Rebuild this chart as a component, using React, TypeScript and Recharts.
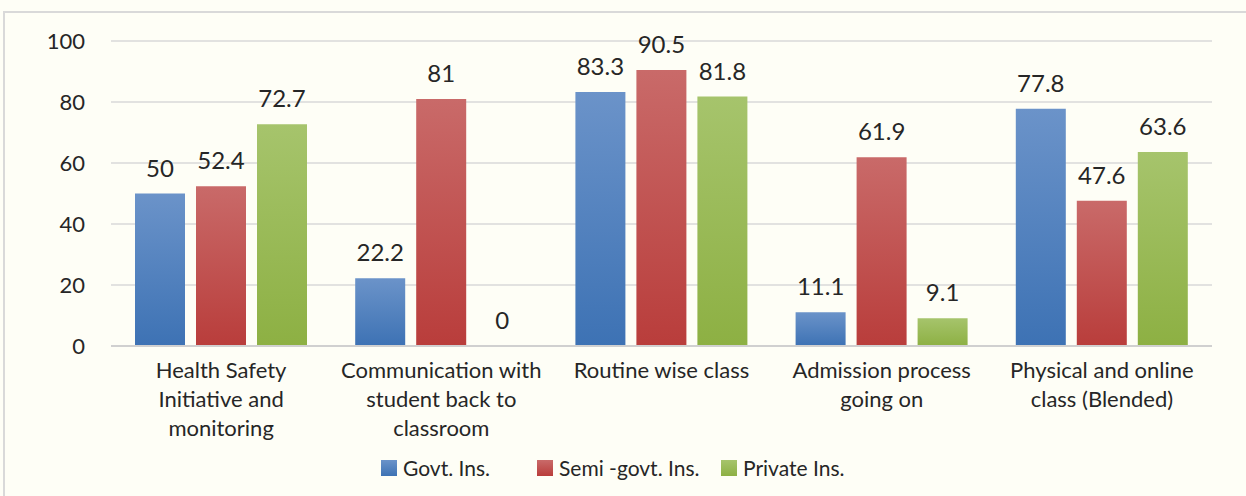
import React from 'react';
import { BarChart, Bar, XAxis, YAxis, CartesianGrid, LabelList, Legend } from 'recharts';

const categories = [
  'Health Safety Initiative and monitoring',
  'Communication with student back to classroom',
  'Routine wise class',
  'Admission process going on',
  'Physical and online class (Blended)',
];

const categoryLines: Record<string, string[]> = {
  'Health Safety Initiative and monitoring': ['Health Safety', 'Initiative and', 'monitoring'],
  'Communication with student back to classroom': ['Communication with', 'student back to', 'classroom'],
  'Routine wise class': ['Routine wise class'],
  'Admission process going on': ['Admission process', 'going on'],
  'Physical and online class (Blended)': ['Physical and online', 'class (Blended)'],
};

const govt = [50, 22.2, 83.3, 11.1, 77.8];
const semiGovt = [52.4, 81, 90.5, 61.9, 47.6];
const privateIns = [72.7, 0, 81.8, 9.1, 63.6];

const yTicks = [0, 20, 40, 60, 80, 100];

const series = [
  { key: 'govt', name: 'Govt. Ins.', top: '#6b93c9', bottom: '#3d72b4', itemWidth: 156 },
  { key: 'semi', name: 'Semi -govt. Ins.', top: '#c96a69', bottom: '#b93d3b', itemWidth: 184 },
  { key: 'priv', name: 'Private Ins.', top: '#a6c46c', bottom: '#8db043', itemWidth: 140 },
];

const data = categories.map((name, i) => ({
  name,
  govt: govt[i],
  semi: semiGovt[i],
  priv: privateIns[i],
}));

const FONT = 'Lato, "Open Sans", sans-serif';
const TEXT = '#262626';

function CategoryTick(props: any) {
  const { x, y, payload } = props;
  const lines = categoryLines[payload.value] || [payload.value];
  return (
    <g transform={`translate(${x},${y})`}>
      {lines.map((line, i) => (
        <text
          key={i}
          x={0}
          y={i * 29}
          dy={24}
          textAnchor="middle"
          fill={TEXT}
          fontSize={22}
          fontFamily={FONT}
        >
          {line}
        </text>
      ))}
    </g>
  );
}

function ValueLabel(props: any) {
  const { x, y, width, height, value } = props;
  const top = Math.min(y, y + height);
  return (
    <text
      x={x + width / 2}
      y={top - 17}
      textAnchor="middle"
      fill={TEXT}
      fontSize={24}
      fontFamily={FONT}
    >
      {value}
    </text>
  );
}

function LegendContent() {
  return (
    <div
      style={{
        display: 'flex',
        paddingLeft: 381,
        fontFamily: FONT,
        fontSize: 21,
        color: TEXT,
      }}
    >
      {series.map((s) => (
        <div key={s.key} style={{ display: 'flex', alignItems: 'center', width: s.itemWidth }}>
          <span
            style={{
              display: 'inline-block',
              width: 16,
              height: 16,
              marginRight: 6,
              background: `linear-gradient(${s.top}, ${s.bottom})`,
            }}
          />
          {s.name}
        </div>
      ))}
    </div>
  );
}

export default function App() {
  return (
    <div
      style={{
        position: 'absolute',
        left: 0,
        top: 0,
        width: 1246,
        height: 496,
        background: '#fefef6',
        overflow: 'hidden',
      }}
    >
      <div
        style={{
          position: 'absolute',
          left: 3,
          top: 11,
          width: 1260,
          height: 500,
          border: '2px solid #d9d9d9',
          boxSizing: 'border-box',
        }}
      />
      <div style={{ position: 'absolute', left: 0, top: 0 }}>
        <BarChart
          width={1246}
          height={496}
          data={data}
          margin={{ top: 41, right: 34, bottom: 0, left: 0 }}
          barCategoryGap={24}
          barGap={11}
        >
          <defs>
            {series.map((s) => (
              <linearGradient key={s.key} id={`grad-${s.key}`} x1="0" y1="0" x2="0" y2="1">
                <stop offset="0%" stopColor={s.top} />
                <stop offset="100%" stopColor={s.bottom} />
              </linearGradient>
            ))}
          </defs>
          <CartesianGrid vertical={false} stroke="#d9d9d9" strokeWidth={1.5} />
          <XAxis
            dataKey="name"
            tick={<CategoryTick />}
            tickLine={false}
            axisLine={{ stroke: '#d0d0d0', strokeWidth: 2 }}
            interval={0}
            height={125}
          />
          <YAxis
            domain={[0, 100]}
            ticks={yTicks}
            width={111}
            tickLine={false}
            axisLine={false}
            tickMargin={20}
            tick={{ fill: TEXT, fontSize: 22, fontFamily: FONT }}
          />
          <Legend
            verticalAlign="bottom"
            content={<LegendContent />}
            wrapperStyle={{ bottom: 16 }}
          />
          {series.map((s) => (
            <Bar
              key={s.key}
              dataKey={s.key}
              name={s.name}
              fill={`url(#grad-${s.key})`}
              barSize={50}
              minPointSize={0.01}
              isAnimationActive={false}
            >
              <LabelList dataKey={s.key} content={<ValueLabel />} />
            </Bar>
          ))}
        </BarChart>
      </div>
    </div>
  );
}
